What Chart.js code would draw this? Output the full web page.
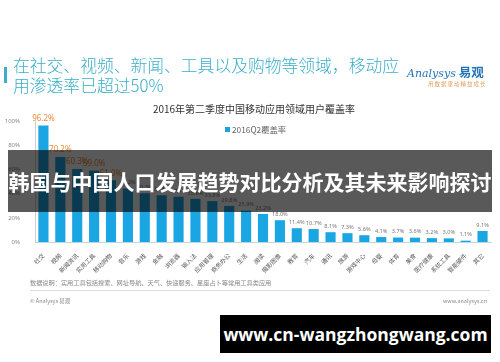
<!DOCTYPE html>
<html>
<head>
<meta charset="utf-8">
<script src="https://cdn.jsdelivr.net/npm/chart.js@4.4.1/dist/chart.umd.min.js"></script>
<style>
  html, body { margin: 0; padding: 0; background: #fff; }
  #page { position: relative; width: 500px; height: 362px; overflow: hidden; font-family: "Noto Sans CJK SC", "Noto Sans", sans-serif; }
  #page canvas { position: absolute; left: 0; top: 0; }
  .abs { position: absolute; white-space: nowrap; }
  #headline { left: 13px; top: 55px; font-size: 16.8px; line-height: 20px; color: #3aaec8; font-weight: 300; }
  #headBar { left: 4px; top: 67px; width: 3px; height: 16px; background: #3aaec8; }
  #logo { left: 407px; top: 62px; font-size: 12px; color: #2473b5; }
  #logo i { font-family: "DejaVu Serif", serif; font-size: 11px; }
  #logo b { font-size: 12.5px; margin-left: 3px; }
  #tagline { left: 428px; top: 80px; font-size: 5.5px; color: #e1a062; letter-spacing: 1px; }
  #chartTitle { left: 0; width: 508px; top: 101px; text-align: center; font-size: 10px; color: #333; }
  #legendBox { left: 225px; top: 127px; width: 5px; height: 5px; background: #1aa3e0; }
  #legendText { left: 232px; top: 123px; font-size: 8.3px; color: #666; }
  #band { left: 8px; top: 150px; width: 484px; height: 62px; background: rgba(0,0,0,0.65);
          color: #fff; font-weight: bold; font-size: 21px; line-height: 62px; text-align: center; }
  #note { left: 30px; top: 278px; font-size: 6.2px; color: #888; }
  #rule { left: 30px; top: 290px; width: 460px; height: 1px; background: #ddd; }
  #copy { left: 30px; top: 297px; font-size: 5.5px; color: #888; }
  #site { right: 13px; top: 297px; font-size: 5.5px; color: #888; }
  #footBox { left: 220px; top: 315px; width: 271px; height: 38px; background: #000; color: #fff;
             font-family: "Open Sans", sans-serif; font-weight: bold; font-size: 17.5px; line-height: 38px; text-align: center; }
</style>
</head>
<body>
<div id="page">
  <canvas id="chart" width="500" height="362"></canvas>
  <div class="abs" id="headBar"></div>
  <div class="abs" id="headline">在社交、视频、新闻、工具以及购物等领域，移动应<br>用渗透率已超过50%</div>
  <div class="abs" id="logo"><i>Analysys</i><b>易观</b></div>
  <div class="abs" id="tagline">用数据驱动精益成长</div>
  <div class="abs" id="chartTitle">2016年第二季度中国移动应用领域用户覆盖率</div>
  <div class="abs" id="legendBox"></div>
  <div class="abs" id="legendText">2016Q2覆盖率</div>
  <div class="abs" id="band">韩国与中国人口发展趋势对比分析及其未来影响探讨</div>
  <div class="abs" id="note">数据说明：实用工具包括搜索、网址导航、天气、快递服务、星座占卜等常用工具类应用</div>
  <div class="abs" id="rule"></div>
  <div class="abs" id="copy">© Analysys 易观</div>
  <div class="abs" id="site">www.analysys.cn</div>
  <div class="abs" id="footBox">www.cn-wangzhongwang.com</div>
</div>
<script>
const categories = ['社交', '视频', '新闻资讯', '实用工具', '移动购物', '音乐', '游戏', '金融', '浏览器',
    '输入法', '应用管理', '商务办公', '生活', '阅读', '摄影图像', '教育', '汽车', '通讯', '旅游',
    '游戏中心', '母婴', '体育', '美食', '医疗健康', '系统工具', '智能硬件', '其它'];
const coverage = [96.2, 70.2, 60.3, 59.0, 51.0, 44.2, 40.3, 38.6, 37.4, 35.6, 33.8, 29.8, 25.9,
    23.2, 18.0, 11.4, 10.7, 8.1, 7.3, 5.6, 4.1, 3.7, 3.6, 3.2, 3.0, 1.1, 9.1];
const yTicks = [0, 20, 40, 60, 80, 100];

// labels above the bars, first five highlighted in orange
const barLabels = {
    id: 'barLabels',
    afterDatasetsDraw(chart) {
        const ctx = chart.ctx;
        const meta = chart.getDatasetMeta(0);
        ctx.save();
        ctx.textAlign = 'center';
        ctx.textBaseline = 'bottom';
        meta.data.forEach((bar, i) => {
            const big = i < 5;
            ctx.fillStyle = big ? '#ee8c3a' : '#777';
            ctx.font = (big ? '8px' : '5.6px') + ' "Noto Sans", sans-serif';
            ctx.fillText(coverage[i].toFixed(1) + '%', bar.x, bar.y - 3);
        });
        ctx.restore();
    }
};

new Chart(document.getElementById('chart').getContext('2d'), {
    type: 'bar',
    data: {
        labels: categories,
        datasets: [{
            label: '2016Q2覆盖率',
            data: coverage,
            backgroundColor: '#1aa5e3',
            categoryPercentage: 1,
            barPercentage: 0.6
        }]
    },
    options: {
        responsive: false,
        animation: false,
        layout: { padding: { left: 0, right: 9, top: 121, bottom: 80 } },
        scales: {
            y: {
                min: 0,
                max: 100,
                afterFit: (scale) => { scale.width = 35; },
                afterBuildTicks: (scale) => { scale.ticks = yTicks.map(v => ({ value: v })); },
                ticks: {
                    padding: 7,
                    color: '#888',
                    font: { size: 6, family: 'Noto Sans' },
                    callback: (v) => v + '%'
                },
                grid: { display: false },
                border: { display: true, color: '#d0d0d0' }
            },
            x: {
                afterFit: (scale) => { scale.height = 40; },
                ticks: {
                    autoSkip: false,
                    minRotation: 45,
                    maxRotation: 45,
                    padding: 2,
                    color: '#555',
                    font: { size: 6, family: 'Noto Sans CJK SC' }
                },
                grid: { display: false },
                border: { display: true, color: '#bcd6e4' }
            }
        },
        plugins: {
            legend: { display: false },
            tooltip: { enabled: false }
        }
    },
    plugins: [barLabels]
});
</script>
</body>
</html>
